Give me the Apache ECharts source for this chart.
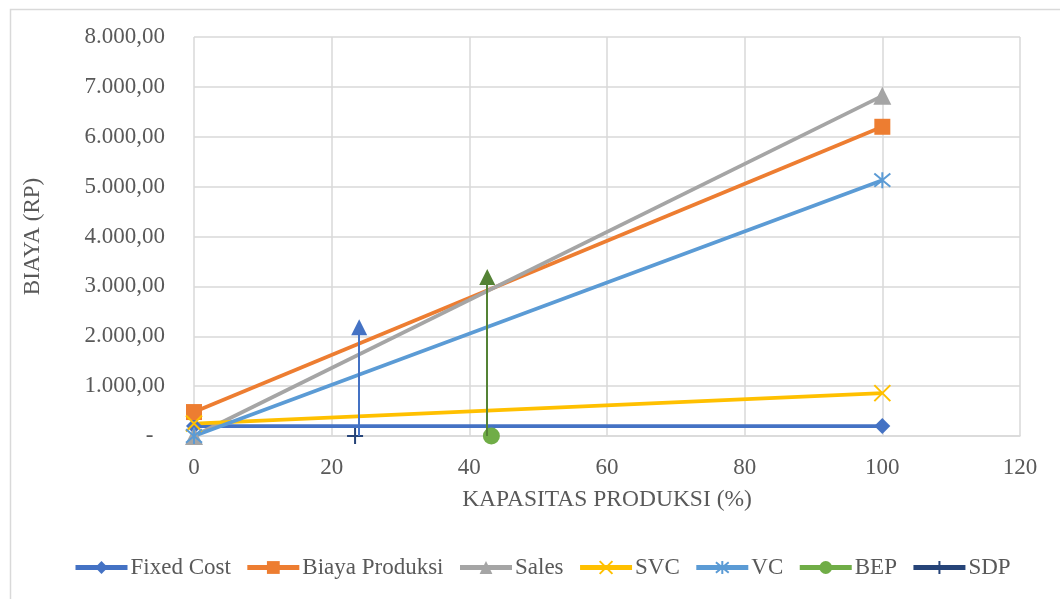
<!DOCTYPE html>
<html>
<head>
<meta charset="utf-8">
<script src="https://cdn.jsdelivr.net/npm/echarts@6/dist/echarts.min.js"></script>
<style>
  html, body { margin: 0; padding: 0; background: #fff; }
  #chart { width: 1060px; height: 599px; }
</style>
</head>
<body>
<div id="chart"></div>
<script>
// Break-even chart: cost and sales lines against production capacity (%)
const capacity = [0, 100];
const fixedCost = [200, 200];
const biayaProduksi = [480, 6200];
const sales = [0, 6820];
const svc = [250, 860];
const vc = [0, 5130];
const bepPoint = [[43.2, 0]];
const sdpPoint = [[23.4, 0]];
// vertical arrows marking the shutdown point and break-even point
const sdpArrow = { x: 24.0, top: 2180 };
const bepArrow = { x: 42.6, top: 3190 };

const yTicks = ['-  ', '1.000,00', '2.000,00', '3.000,00', '4.000,00', '5.000,00', '6.000,00', '7.000,00', '8.000,00'];

const FONT = '"Liberation Serif", "Times New Roman", serif';
const FS = 23;
const TXT = '#595959';
const GRID = '#D9D9D9';
const crossPath = 'path://M0,0L10,10M10,0L0,10';
const starPath = 'path://M0,0L10,10M10,0L0,10M5,-1L5,11';
const plusPath = 'path://M5,0L5,10M0,5L10,5';

function pairs(ys) { return capacity.map((x, i) => [x, ys[i]]); }

function lineSeries(name, ys, color, symbol, size, strokeOnly) {
  return {
    name, type: 'line', data: pairs(ys),
    symbol, symbolSize: size,
    lineStyle: { color, width: 3.75 },
    itemStyle: strokeOnly
      ? { color: 'rgba(0,0,0,0)', borderColor: color, borderWidth: 2 }
      : { color, borderColor: color, borderWidth: 0 },
    emphasis: { disabled: true },
    z: 2
  };
}

const chart = echarts.init(document.getElementById('chart'), null, { renderer: 'canvas' });
chart.setOption({
  animation: false,
  backgroundColor: '#fff',
  textStyle: { fontFamily: FONT },
  graphic: [{
    type: 'rect', left: 8, top: 7, shape: { width: 1070, height: 620 },
    style: { fill: 'none', stroke: GRID, lineWidth: 1.5 }, silent: true, z: -1
  }],
  grid: { left: 194, right: 40, top: 37, bottom: 163, containLabel: false },
  legend: {
    top: 551, left: 68, itemGap: 14, itemWidth: 52, itemHeight: 16,
    lineStyle: { width: 5 },
    textStyle: { fontFamily: FONT, fontSize: FS, color: TXT, padding: [0, 0, 0, -2] },
    data: ['Fixed Cost', 'Biaya Produksi', 'Sales', 'SVC', 'VC', 'BEP', 'SDP']
  },
  xAxis: {
    type: 'value', min: 0, max: 120, interval: 20,
    name: 'KAPASITAS PRODUKSI (%)', nameLocation: 'middle', nameGap: 52,
    nameTextStyle: { fontFamily: FONT, fontSize: 23.5, color: TXT },
    axisLine: { show: true, lineStyle: { color: GRID, width: 1.5 } },
    axisTick: { show: false },
    axisLabel: { fontFamily: FONT, fontSize: FS, color: TXT, margin: 20 },
    splitLine: { show: true, lineStyle: { color: GRID, width: 1.5 } }
  },
  yAxis: {
    type: 'value', min: 0, max: 8000, interval: 1000,
    name: 'BIAYA (RP)', nameLocation: 'middle', nameGap: 150,
    nameTextStyle: { fontFamily: FONT, fontSize: FS, color: TXT },
    axisLine: { show: false },
    axisTick: { show: false },
    axisLabel: {
      fontFamily: FONT, fontSize: FS, color: TXT, margin: 29,
      formatter: (v) => yTicks[Math.round(v / 1000)]
    },
    splitLine: { show: true, lineStyle: { color: GRID, width: 1.5 } }
  },
  series: [
    lineSeries('Fixed Cost', fixedCost, '#4472C4', 'diamond', 16, false),
    lineSeries('Biaya Produksi', biayaProduksi, '#ED7D31', 'rect', 16, false),
    lineSeries('Sales', sales, '#A5A5A5', 'triangle', 18, false),
    lineSeries('SVC', svc, '#FFC000', crossPath, 16, true),
    lineSeries('VC', vc, '#5B9BD5', starPath, 16, true),
    {
      name: 'BEP', type: 'line', data: bepPoint,
      symbol: 'circle', symbolSize: 17,
      lineStyle: { color: '#70AD47', width: 3.75 },
      itemStyle: { color: '#70AD47' }, z: 3,
      markLine: {
        silent: true, symbol: ['none', 'triangle'], symbolSize: [16, 16],
        label: { show: false },
        lineStyle: { color: '#548235', width: 2, type: 'solid' },
        data: [[{ coord: [bepArrow.x, 0] }, { coord: [bepArrow.x, bepArrow.top] }]]
      }
    },
    {
      name: 'SDP', type: 'line', data: sdpPoint,
      symbol: plusPath, symbolSize: 16,
      lineStyle: { color: '#264478', width: 3.75 },
      itemStyle: { color: 'rgba(0,0,0,0)', borderColor: '#264478', borderWidth: 2 }, z: 3,
      markLine: {
        silent: true, symbol: ['none', 'triangle'], symbolSize: [16, 16],
        label: { show: false },
        lineStyle: { color: '#4472C4', width: 2, type: 'solid' },
        data: [[{ coord: [sdpArrow.x, 0] }, { coord: [sdpArrow.x, sdpArrow.top] }]]
      }
    }
  ]
});
</script>
</body>
</html>
